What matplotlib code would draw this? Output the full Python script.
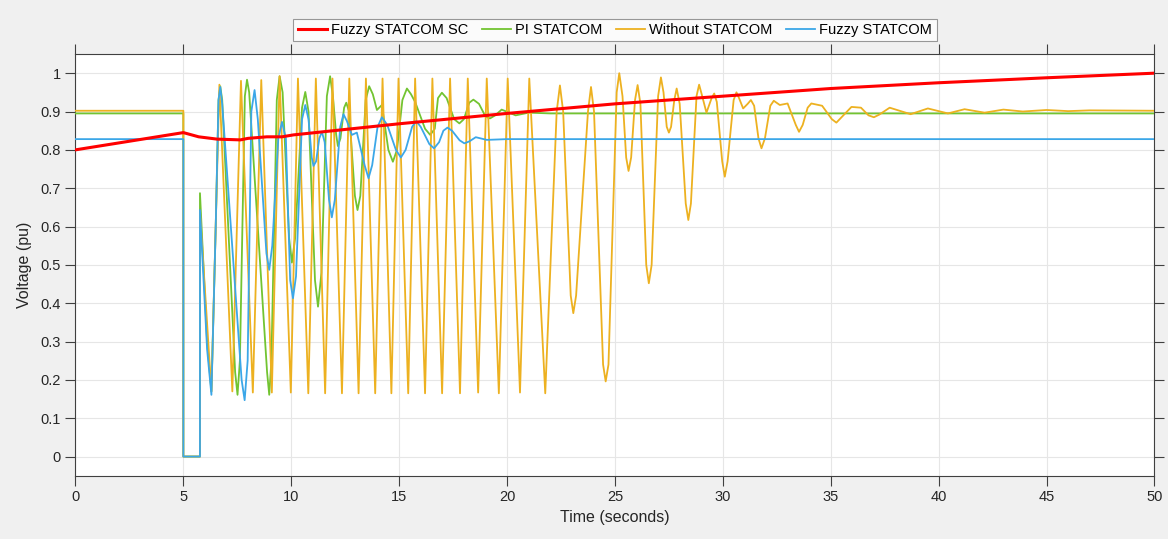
import matplotlib.pyplot as plt

# Fuzzy STATCOM SC (red)
sc_pts = [(0, 0.800), (5, 0.845), (5.71, 0.834), (6.56, 0.828), (7.64, 0.826),
          (8.0, 0.830), (8.87, 0.834), (9.57, 0.834), (10.1, 0.839), (15, 0.868),
          (20, 0.895), (25, 0.920), (30, 0.940), (35, 0.960), (40, 0.975),
          (45, 0.988), (50, 1.0)]

# PI STATCOM (green)
pi_pts = [(0, 0.895), (5, 0.895), (5, 0), (5.77, 0), (5.77, 0.687), (6.1, 0.3),
          (6.3, 0.17), (6.5, 0.6), (6.63, 0.93), (6.71, 0.966), (6.8, 0.93),
          (7.4, 0.22), (7.51, 0.161), (7.62, 0.25), (7.85, 0.94), (7.95, 0.983),
          (8.05, 0.95), (8.88, 0.22), (8.98, 0.161), (9.08, 0.25), (9.33, 0.93),
          (9.46, 0.992), (9.6, 0.95), (9.9, 0.57), (10.03, 0.506), (10.18, 0.57),
          (10.5, 0.91), (10.65, 0.951), (10.8, 0.9), (11.1, 0.46), (11.24, 0.391),
          (11.4, 0.48), (11.65, 0.94), (11.8, 0.992), (11.93, 0.94), (12.08, 0.84),
          (12.16, 0.81), (12.28, 0.83), (12.45, 0.91), (12.55, 0.923), (12.68, 0.9),
          (12.95, 0.68), (13.07, 0.643), (13.2, 0.68), (13.45, 0.93), (13.61, 0.966),
          (13.78, 0.945), (13.97, 0.904), (14.2, 0.917), (14.5, 0.8), (14.71, 0.769),
          (14.9, 0.8), (15.15, 0.93), (15.36, 0.96), (15.55, 0.945), (15.74, 0.925),
          (16.2, 0.855), (16.44, 0.839), (16.65, 0.855), (16.8, 0.935), (16.98, 0.949),
          (17.2, 0.935), (17.55, 0.88), (17.79, 0.869), (18.0, 0.88), (18.25, 0.923),
          (18.44, 0.931), (18.7, 0.92), (19.0, 0.887), (19.21, 0.882), (19.45, 0.89),
          (19.75, 0.905), (20.4, 0.89), (21.0, 0.897), (22, 0.895), (50, 0.895)]

# Without STATCOM (yellow)
wo_pts = [(0, 0.902), (5, 0.902), (5, 0), (5.77, 0), (5.77, 0.64), (6.3, 0.17),
          (6.67, 0.97), (7.27, 0.17), (7.67, 0.98), (8.22, 0.167), (8.61, 0.982),
          (9.10, 0.167), (9.46, 0.992), (9.98, 0.167), (10.31, 0.986), (10.79, 0.165),
          (11.14, 0.986), (11.57, 0.165), (11.91, 0.986), (12.35, 0.165), (12.69, 0.986),
          (13.12, 0.165), (13.46, 0.986), (13.89, 0.165), (14.23, 0.986), (14.64, 0.165),
          (14.97, 0.986), (15.42, 0.165), (15.74, 0.986), (16.2, 0.165), (16.54, 0.986),
          (16.99, 0.165), (17.36, 0.986), (17.82, 0.165), (18.18, 0.986), (18.66, 0.167),
          (19.06, 0.986), (19.62, 0.165), (20.03, 0.986), (20.6, 0.167), (21.03, 0.986),
          (21.77, 0.165), (22.3, 0.9), (22.45, 0.968), (22.6, 0.9), (22.95, 0.42),
          (23.07, 0.374), (23.2, 0.42), (23.75, 0.9), (23.89, 0.964), (24.03, 0.9),
          (24.45, 0.24), (24.57, 0.196), (24.7, 0.24), (25.08, 0.95), (25.2, 1.0),
          (25.35, 0.94), (25.52, 0.78), (25.63, 0.745), (25.75, 0.78), (25.93, 0.93),
          (26.05, 0.969), (26.18, 0.92), (26.45, 0.5), (26.57, 0.452), (26.7, 0.5),
          (27.0, 0.94), (27.13, 0.989), (27.25, 0.95), (27.4, 0.86), (27.5, 0.845),
          (27.6, 0.86), (27.75, 0.93), (27.86, 0.96), (28.0, 0.92), (28.28, 0.66),
          (28.4, 0.617), (28.52, 0.66), (28.78, 0.94), (28.9, 0.97), (29.02, 0.945),
          (29.24, 0.897), (29.48, 0.935), (29.6, 0.947), (29.72, 0.925), (29.97, 0.77),
          (30.09, 0.73), (30.22, 0.77), (30.5, 0.93), (30.63, 0.95), (30.75, 0.935),
          (30.94, 0.908), (31.15, 0.92), (31.3, 0.93), (31.45, 0.915), (31.65, 0.83),
          (31.79, 0.804), (31.95, 0.83), (32.2, 0.915), (32.36, 0.928), (32.64, 0.917),
          (33.0, 0.921), (33.38, 0.865), (33.53, 0.847), (33.7, 0.865), (33.93, 0.91),
          (34.1, 0.921), (34.6, 0.915), (35.05, 0.88), (35.26, 0.871), (35.5, 0.885),
          (35.96, 0.912), (36.4, 0.91), (36.75, 0.89), (37.0, 0.885), (37.25, 0.892),
          (37.73, 0.91), (38.7, 0.893), (39.5, 0.908), (40.43, 0.895), (41.2, 0.906),
          (42.13, 0.897), (43.0, 0.905), (43.9, 0.9), (45.0, 0.904), (46.0, 0.901),
          (47.0, 0.903), (50, 0.902)]

# Fuzzy STATCOM (blue)
fz_pts = [(0, 0.828), (5, 0.828), (5, 0), (5.77, 0), (5.77, 0.643), (6.1, 0.28),
          (6.3, 0.161), (6.5, 0.6), (6.63, 0.93), (6.71, 0.964), (6.8, 0.92),
          (7.7, 0.2), (7.84, 0.147), (7.98, 0.25), (8.15, 0.9), (8.3, 0.956),
          (8.45, 0.88), (8.85, 0.53), (8.98, 0.487), (9.12, 0.55), (9.4, 0.83),
          (9.57, 0.873), (9.75, 0.83), (9.95, 0.46), (10.08, 0.413), (10.22, 0.47),
          (10.5, 0.88), (10.65, 0.917), (10.8, 0.88), (10.95, 0.78), (11.03, 0.758),
          (11.15, 0.77), (11.3, 0.83), (11.42, 0.847), (11.55, 0.82), (11.75, 0.67),
          (11.88, 0.624), (12.02, 0.67), (12.27, 0.86), (12.42, 0.893), (12.58, 0.875),
          (12.81, 0.839), (13.04, 0.845), (13.4, 0.76), (13.58, 0.726), (13.75, 0.76),
          (14.0, 0.86), (14.2, 0.885), (14.45, 0.865), (14.85, 0.8), (15.08, 0.78),
          (15.3, 0.8), (15.6, 0.86), (15.79, 0.875), (16.0, 0.86), (16.4, 0.815),
          (16.62, 0.804), (16.85, 0.82), (17.05, 0.85), (17.24, 0.858), (17.45, 0.85),
          (17.8, 0.825), (18.02, 0.817), (18.25, 0.822), (18.55, 0.833), (19.06, 0.826),
          (20, 0.828), (50, 0.828)]

xticks = list(range(0, 51, 5))
yticks = [i / 10 for i in range(11)]
ylabels = ['0', '0.1', '0.2', '0.3', '0.4', '0.5', '0.6', '0.7', '0.8', '0.9', '1']

plt.rcParams['font.family'] = ['Liberation Sans', 'DejaVu Sans']

fig = plt.figure(figsize=(11.68, 5.39), dpi=100, facecolor='#f0f0f0')
ax = fig.add_axes([0.0646, 0.1174, 0.9238, 0.7824])
ax.set_facecolor('white')

t_sc, v_sc = zip(*sc_pts)
t_pi, v_pi = zip(*pi_pts)
t_wo, v_wo = zip(*wo_pts)
t_fz, v_fz = zip(*fz_pts)

ax.plot(t_sc, v_sc, color='#ff0000', lw=2.2, label='Fuzzy STATCOM SC', zorder=5)
ax.plot(t_pi, v_pi, color='#72c431', lw=1.3, label='PI STATCOM', zorder=3,
        solid_joinstyle='round')
ax.plot(t_wo, v_wo, color='#edb120', lw=1.3, label='Without STATCOM', zorder=3,
        solid_joinstyle='round')
ax.plot(t_fz, v_fz, color='#3ba7e8', lw=1.3, label='Fuzzy STATCOM', zorder=4,
        solid_joinstyle='round')

ax.set_xlim(0, 50)
ax.set_ylim(-0.05, 1.05)
ax.set_xticks(xticks)
ax.set_yticks(yticks)
ax.set_yticklabels(ylabels)
ax.grid(True, color='#e6e6e6', lw=0.8)
ax.set_axisbelow(True)
ax.tick_params(direction='out', length=7, width=0.8, colors='#404040',
               labelcolor='#262626', labelsize=10.5,
               top=True, right=True, labeltop=False, labelright=False)
for sp in ax.spines.values():
    sp.set_color('#404040')
    sp.set_linewidth(0.8)

ax.set_xlabel('Time (seconds)', fontsize=11.5, color='#262626', labelpad=4)
ax.set_ylabel('Voltage (pu)', fontsize=11.5, color='#262626', labelpad=6)

leg = fig.legend(loc='center', bbox_to_anchor=(615 / 1168, 1 - 30 / 539), ncol=4,
                 fontsize=10.5, frameon=True, fancybox=False, handlelength=2.0,
                 handletextpad=0.3, columnspacing=0.9, borderpad=0.3)
leg.get_frame().set_edgecolor('#808080')
leg.get_frame().set_linewidth(0.8)

fig.savefig('out.png', dpi=100, facecolor=fig.get_facecolor())
